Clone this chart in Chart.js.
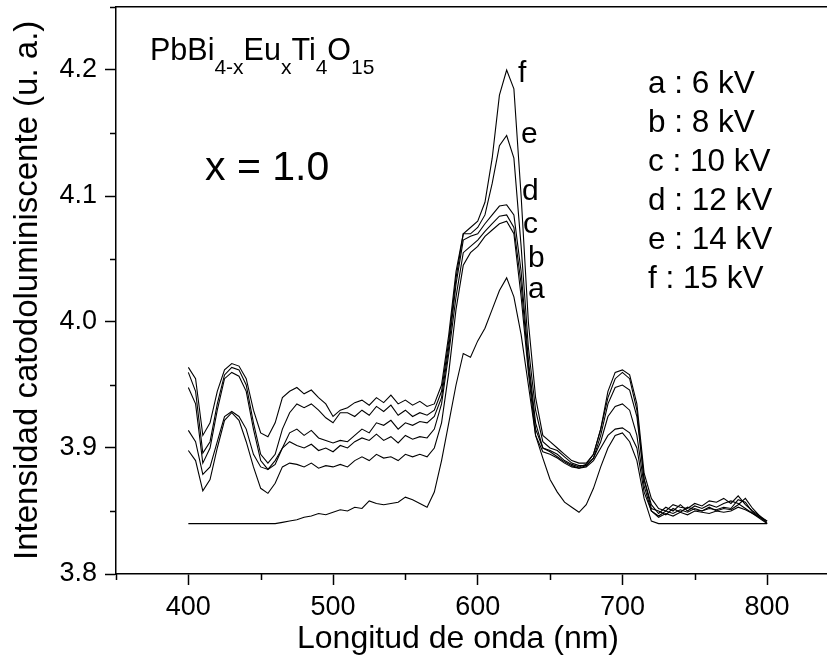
<!DOCTYPE html>
<html>
<head>
    <title>Catodoluminiscencia PbBi4-xEuxTi4O15</title>
    <style>
        body { margin: 0; overflow: hidden; background: white; }
        #chart { display: block; }
    </style>
</head>
<body>
    <canvas id="chart" width="827" height="656"></canvas>

    <script src="https://cdn.jsdelivr.net/npm/chart.js"></script>
    <script>
        // Wavelength grid (nm)
        const wavelengths = [
            400, 405, 410, 415, 420, 425, 430, 435, 440, 445,
            450, 455, 460, 465, 470, 475, 480, 485, 490, 495,
            500, 505, 510, 515, 520, 525, 530, 535, 540, 545,
            550, 555, 560, 565, 570, 575, 580, 585, 590, 595,
            600, 605, 610, 615, 620, 625, 630, 635, 640, 645,
            650, 655, 660, 665, 670, 675, 680, 685, 690, 695,
            700, 705, 710, 715, 720, 725, 730, 735, 740, 745,
            750, 755, 760, 765, 770, 775, 780, 785, 790, 795,
            800
        ];

        // Curve letters and accelerating voltages
        const curveLetters = ['a', 'b', 'c', 'd', 'e', 'f'];
        const voltages = ['6 kV', '8 kV', '10 kV', '12 kV', '14 kV', '15 kV'];

        // Intensity values (u. a.)
        const curveA = [
            3.840, 3.840, 3.840, 3.840, 3.840, 3.840, 3.840, 3.840, 3.840, 3.840,
            3.840, 3.840, 3.840, 3.841, 3.842, 3.843, 3.845, 3.846, 3.848, 3.847,
            3.849, 3.851, 3.850, 3.853, 3.852, 3.858, 3.856, 3.855, 3.856, 3.857,
            3.861, 3.859, 3.856, 3.853, 3.865, 3.890, 3.920, 3.950, 3.975, 3.972,
            3.985, 3.995, 4.010, 4.025, 4.035, 4.020, 3.990, 3.950, 3.910, 3.892,
            3.875, 3.865, 3.857, 3.853, 3.849, 3.855, 3.868, 3.885, 3.900, 3.910,
            3.912, 3.905, 3.890, 3.860, 3.842, 3.840, 3.840, 3.840, 3.840, 3.840,
            3.840, 3.840, 3.840, 3.840, 3.840, 3.840, 3.840, 3.840, 3.840, 3.840,
            3.840
        ];
        const curveB = [
            3.898, 3.890, 3.866, 3.875, 3.900, 3.922, 3.928, 3.922, 3.905, 3.885,
            3.868, 3.864, 3.872, 3.885, 3.888, 3.887, 3.885, 3.888, 3.884, 3.886,
            3.885, 3.887, 3.885, 3.890, 3.893, 3.890, 3.895, 3.892, 3.893, 3.890,
            3.895, 3.893, 3.895, 3.893, 3.900, 3.920, 3.960, 4.010, 4.045, 4.055,
            4.060, 4.068, 4.073, 4.078, 4.080, 4.070, 4.020, 3.960, 3.910, 3.897,
            3.895, 3.892, 3.888, 3.885, 3.884, 3.885, 3.890, 3.900, 3.910, 3.915,
            3.916, 3.912, 3.900, 3.865, 3.850, 3.845, 3.848, 3.846, 3.849, 3.847,
            3.850, 3.849, 3.848, 3.850, 3.849, 3.850, 3.853, 3.851, 3.848, 3.844,
            3.840
        ];
        const curveC = [
            3.914, 3.905, 3.879, 3.885, 3.905, 3.925, 3.929, 3.925, 3.915, 3.895,
            3.885, 3.883, 3.890, 3.900, 3.905, 3.902, 3.900, 3.903, 3.898, 3.900,
            3.897, 3.902, 3.900, 3.905, 3.908, 3.906, 3.911, 3.906, 3.909, 3.904,
            3.910, 3.907, 3.909, 3.908, 3.915, 3.935, 3.975, 4.020, 4.055, 4.060,
            4.065, 4.072, 4.078, 4.084, 4.085, 4.075, 4.030, 3.965, 3.915, 3.900,
            3.897, 3.893, 3.889, 3.886, 3.884, 3.886, 3.892, 3.905, 3.925, 3.933,
            3.935, 3.930, 3.910, 3.870, 3.850, 3.846, 3.850, 3.848, 3.851, 3.849,
            3.852, 3.850, 3.853, 3.850, 3.852, 3.851, 3.855, 3.860, 3.852, 3.846,
            3.840
        ];
        const curveD = [
            3.948, 3.935, 3.888, 3.900, 3.930, 3.955, 3.960, 3.957, 3.945, 3.915,
            3.890, 3.883, 3.887, 3.900, 3.912, 3.915, 3.910, 3.914, 3.908, 3.906,
            3.904, 3.906, 3.905, 3.910, 3.915, 3.912, 3.920, 3.918, 3.922, 3.915,
            3.920, 3.918, 3.921, 3.920, 3.925, 3.940, 3.980, 4.030, 4.065, 4.068,
            4.070, 4.078, 4.085, 4.092, 4.093, 4.085, 4.040, 3.970, 3.920, 3.900,
            3.898, 3.895, 3.890, 3.887, 3.885, 3.887, 3.895, 3.915, 3.940, 3.955,
            3.960, 3.955, 3.930, 3.875, 3.852, 3.850, 3.847, 3.852, 3.849, 3.853,
            3.851, 3.850, 3.852, 3.851, 3.853, 3.852, 3.859, 3.857, 3.849, 3.845,
            3.842
        ];
        const curveE = [
            3.960, 3.945, 3.896, 3.905, 3.935, 3.958, 3.964, 3.962, 3.950, 3.920,
            3.895, 3.888, 3.895, 3.915, 3.928, 3.935, 3.932, 3.935, 3.930, 3.924,
            3.920, 3.928, 3.928, 3.925, 3.930, 3.926, 3.933, 3.929, 3.934, 3.926,
            3.930, 3.925, 3.928, 3.926, 3.930, 3.945, 3.985, 4.035, 4.070, 4.070,
            4.075, 4.085, 4.110, 4.140, 4.148, 4.130, 4.060, 3.980, 3.930, 3.905,
            3.900, 3.898, 3.893, 3.888, 3.886, 3.886, 3.892, 3.910, 3.935, 3.948,
            3.950, 3.946, 3.925, 3.875, 3.855, 3.848, 3.853, 3.850, 3.855, 3.850,
            3.854, 3.852, 3.855, 3.853, 3.856, 3.858, 3.856, 3.852, 3.848, 3.845,
            3.841
        ];
        const curveF = [
            3.964, 3.955, 3.910, 3.920, 3.945, 3.962, 3.967, 3.965, 3.955, 3.930,
            3.912, 3.909, 3.920, 3.940, 3.945, 3.948, 3.943, 3.946, 3.940, 3.935,
            3.925, 3.930, 3.932, 3.936, 3.938, 3.934, 3.940, 3.936, 3.942, 3.935,
            3.938, 3.934, 3.937, 3.933, 3.935, 3.950, 3.990, 4.040, 4.070, 4.075,
            4.080, 4.095, 4.130, 4.180, 4.200, 4.185, 4.100, 4.000, 3.940, 3.910,
            3.905, 3.900, 3.895, 3.890, 3.888, 3.888, 3.895, 3.915, 3.945, 3.960,
            3.962, 3.958, 3.935, 3.880, 3.860, 3.852, 3.850, 3.855, 3.853, 3.852,
            3.856, 3.854, 3.858, 3.857, 3.860, 3.856, 3.862, 3.855, 3.850, 3.846,
            3.842
        ];

        // Axis ticks
        const xTicks = [400, 500, 600, 700, 800];
        const xMinorTicks = [350, 450, 550, 650, 750];
        const yTicks = [3.8, 3.9, 4.0, 4.1, 4.2];
        const yMinorTicks = [3.85, 3.95, 4.05, 4.15, 4.25];

        const FONT = "'Liberation Sans', Arial, sans-serif";

        const curves = [curveA, curveB, curveC, curveD, curveE, curveF];
        const datasets = curves.map((vals, k) => ({
            label: curveLetters[k],
            data: vals.map((v, i) => ({ x: wavelengths[i], y: v })),
            borderColor: '#000',
            borderWidth: 1.1,
            pointRadius: 0,
            tension: 0,
            fill: false
        }));

        // Minor ticks, axis titles and the text annotations
        const decorations = {
            id: 'decorations',
            afterDraw(chart) {
                const c = chart.ctx;
                const xs = chart.scales.x, ys = chart.scales.y;
                const area = chart.chartArea;

                c.save();
                c.strokeStyle = '#000';
                c.lineWidth = 1.5;
                c.beginPath();
                xMinorTicks.forEach(v => {
                    const px = Math.round(xs.getPixelForValue(v)) + 0.5;
                    c.moveTo(px, area.bottom);
                    c.lineTo(px, area.bottom + 6);
                });
                yMinorTicks.forEach(v => {
                    const py = Math.round(ys.getPixelForValue(v)) + 0.5;
                    c.moveTo(area.left - 6, py);
                    c.lineTo(area.left, py);
                });
                c.stroke();

                c.fillStyle = '#000';
                c.textBaseline = 'alphabetic';
                c.textAlign = 'left';

                // x axis title
                c.font = `32px ${FONT}`;
                c.fillText('Longitud de onda (nm)', 297, 648);

                // y axis title
                c.save();
                c.translate(37, 560);
                c.rotate(-Math.PI / 2);
                c.font = `33px ${FONT}`;
                c.fillText('Intensidad catodoluminiscente (u. a.)', 0, 0);
                c.restore();

                // formula with subscripts
                const parts = [['PbBi', 0], ['4-x', 1], ['Eu', 0], ['x', 1], ['Ti', 0], ['4', 1], ['O', 0], ['15', 1]];
                let x = 150;
                parts.forEach(([t, sub]) => {
                    c.font = sub ? `21px ${FONT}` : `30.5px ${FONT}`;
                    c.fillText(t, x, sub ? 74 : 60);
                    x += c.measureText(t).width;
                });

                // composition
                c.font = `41px ${FONT}`;
                c.fillText('x = 1.0', 205, 180);

                // voltage list
                c.font = `31.5px ${FONT}`;
                curveLetters.forEach((l, k) => {
                    c.fillText(`${l} : ${voltages[k]}`, 648, 93 + k * 39);
                });

                // curve labels near the main peak
                const labelPos = { f: [518, 82], e: [521, 143], d: [522, 200], c: [523, 233], b: [528, 267], a: [528, 298] };
                c.font = `30px ${FONT}`;
                curveLetters.forEach(l => {
                    c.fillText(l, labelPos[l][0], labelPos[l][1]);
                });
                c.restore();
            }
        };

        const ctx = document.getElementById('chart').getContext('2d');
        new Chart(ctx, {
            type: 'line',
            data: { datasets },
            options: {
                responsive: false,
                devicePixelRatio: 1,
                animation: false,
                layout: { padding: 0 },
                plugins: {
                    legend: { display: false },
                    tooltip: { enabled: false }
                },
                scales: {
                    x: {
                        type: 'linear',
                        position: 'bottom',
                        min: 350,
                        max: 841.4,
                        afterBuildTicks: s => { s.ticks = xTicks.map(v => ({ value: v })); },
                        afterFit: s => { s.height = 82; s.paddingLeft = 0; s.paddingRight = 0; },
                        grid: { display: true, drawOnChartArea: false, drawTicks: true, tickLength: 11, tickColor: '#000', tickWidth: 1.5 },
                        border: { display: true, color: '#000', width: 1.5 },
                        ticks: { color: '#000', font: { family: FONT, size: 27 }, padding: 6, maxRotation: 0, autoSkip: false }
                    },
                    xTop: {
                        type: 'linear',
                        position: 'top',
                        min: 350,
                        max: 841.4,
                        afterFit: s => { s.height = 7; s.paddingLeft = 0; s.paddingRight = 0; },
                        grid: { display: false, drawTicks: false },
                        border: { display: true, color: '#000', width: 1.5 },
                        ticks: { display: false }
                    },
                    y: {
                        min: 3.8,
                        max: 4.25,
                        afterBuildTicks: s => { s.ticks = yTicks.map(v => ({ value: v })); },
                        afterFit: s => { s.width = 116; s.paddingTop = 0; s.paddingBottom = 0; },
                        grid: { display: true, drawOnChartArea: false, drawTicks: true, tickLength: 11, tickColor: '#000', tickWidth: 1.5 },
                        border: { display: true, color: '#000', width: 1.5 },
                        ticks: { color: '#000', font: { family: FONT, size: 27 }, padding: 8, callback: v => v.toFixed(1) }
                    }
                }
            },
            plugins: [decorations]
        });
    </script>
</body>
</html>
